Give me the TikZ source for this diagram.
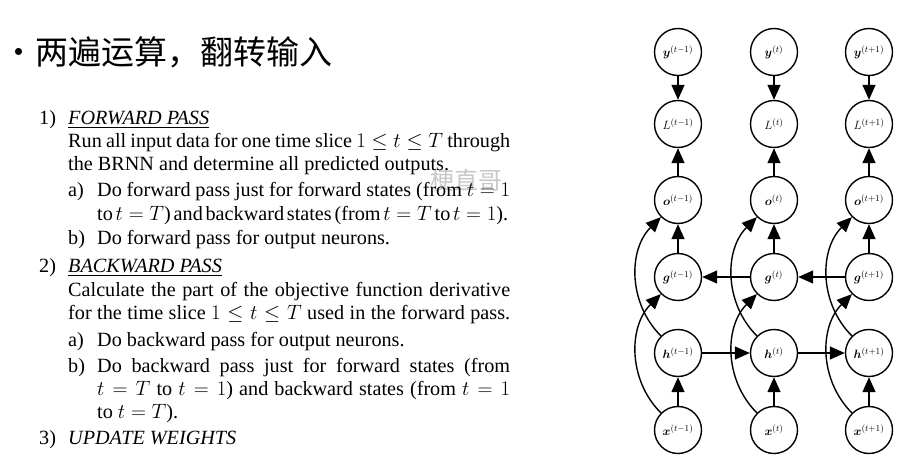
\documentclass[tikz,border=0pt]{standalone}
\usepackage{amsmath,bm}
\usepackage{fontspec}
\setmainfont{Liberation Serif}
\newfontfamily\cjk{Noto Sans CJK SC}
\usetikzlibrary{arrows.meta}
\tikzset{
 txt/.style={anchor=base west, inner sep=0pt, font=\fontsize{20.2}{23}\selectfont},
 unit/.style={circle, draw, line width=1.4pt, minimum size=47pt, inner sep=0pt, font=\fontsize{12.5}{14}\selectfont},
 arr/.style={line width=1.4pt, -{Triangle[length=15pt,width=13pt]}},
}
\newcommand{\jl}[2]{\makebox[#1pt][s]{#2}}
\begin{document}
\begin{tikzpicture}[x=1pt,y=-1pt]
\useasboundingbox (0,0) rectangle (922,466);
% title
\node[anchor=base west, inner sep=0pt, font=\cjk\fontsize{33}{36}\selectfont] (title) at (2,64) {•\hspace{0pt}两遍运算，翻转输入};
% watermark
\node[anchor=base west, inner sep=0pt, text=black!22, font=\cjk\fontsize{24}{26}\selectfont] (wm) at (430,189) {梗直哥};
% text lines
\node[txt] (n1) at (39,124) {1)};
\node[txt] (l1) at (68,124) {\underline{\textit{FORWARD PASS}}};
\node[txt] (l2) at (68,147) {\jl{442}{Run all input data for one time slice $1\le t\le T$ through}};
\node[txt] (l3) at (68,170) {the BRNN and determine all predicted outputs.};
\node[txt] (a1) at (68,196) {a)};
\node[txt] (l4) at (97,196) {\jl{413}{Do forward pass just for forward states (from $t=1$}};
\node[txt] (l5) at (97,220) {\jl{411}{\spaceskip=0.16em minus 0.05em to $t=T$) and backward states (from $t=T$ to $t=1$).}};
\node[txt] (b1) at (68,244) {b)};
\node[txt] (l6) at (97,244) {Do forward pass for output neurons.};
\node[txt] (n2) at (39,272) {2)};
\node[txt] (l7) at (68,272) {\underline{\textit{BACKWARD PASS}}};
\node[txt] (l8) at (68,296) {\jl{442}{Calculate the part of the objective function derivative}};
\node[txt] (l9) at (68,319) {\jl{442}{for the time slice $1\le t\le T$ used in the forward pass.}};
\node[txt] (a2) at (68,346) {a)};
\node[txt] (l10) at (97,346) {Do backward pass for output neurons.};
\node[txt] (b2) at (68,372) {b)};
\node[txt] (l11) at (97,372) {\jl{413}{Do backward pass just for forward states (from}};
\node[txt] (l12) at (97,395) {\jl{413}{$t=T$ to $t=1$) and backward states (from $t=1$}};
\node[txt] (l13) at (97,418) {to $t=T$).};
\node[txt] (n3) at (39,444) {3)};
\node[txt] (l14) at (68,444) {\textit{UPDATE WEIGHTS}};
% graph
\foreach \i/\xx/\s in {1/678/t-1, 2/774/t, 3/869/t+1} {
  \node[unit] (y\i) at (\xx,52) {$\bm{y}^{(\s)}$};
  \node[unit] (L\i) at (\xx,124) {$L^{(\s)}$};
  \node[unit] (o\i) at (\xx,200) {$\bm{o}^{(\s)}$};
  \node[unit] (g\i) at (\xx,277) {$\bm{g}^{(\s)}$};
  \node[unit] (h\i) at (\xx,353) {$\bm{h}^{(\s)}$};
  \node[unit] (x\i) at (\xx,430) {$\bm{x}^{(\s)}$};
  \draw[arr] (y\i) -- (L\i);
  \draw[arr] (o\i) -- (L\i);
  \draw[arr] (g\i) -- (o\i);
  \draw[arr] (x\i) -- (h\i);
  \draw[arr] (x\i.135) to[out=135,in=225] (g\i.225);
  \draw[arr] (h\i.135) to[out=135,in=225] (o\i.225);
}
\draw[arr] (h1) -- (h2);
\draw[arr] (h2) -- (h3);
\draw[arr] (g3) -- (g2);
\draw[arr] (g2) -- (g1);
\end{tikzpicture}
\end{document}
